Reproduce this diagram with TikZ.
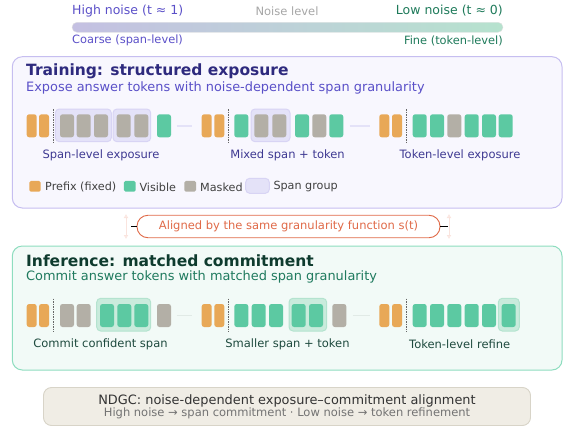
\documentclass[tikz,border=0pt]{standalone}
\usepackage{fontspec}
\setmainfont{DejaVu Sans}
\usetikzlibrary{arrows.meta,positioning,calc}

\definecolor{pfx}{HTML}{E8A857}
\definecolor{vis}{HTML}{5CC9A2}
\definecolor{msk}{HTML}{B3AFA6}
\definecolor{spanfill}{HTML}{E4E2F8}
\definecolor{spanline}{HTML}{D8D4F4}
\definecolor{comfill}{HTML}{C9EBDC}
\definecolor{comline}{HTML}{B4E3CF}
\definecolor{trfill}{HTML}{F8F7FE}
\definecolor{trline}{HTML}{C6BEF0}
\definecolor{trdark}{HTML}{2E2A7E}
\definecolor{trmid}{HTML}{5A50C8}
\definecolor{trlab}{HTML}{3E3992}
\definecolor{infill}{HTML}{F2FAF7}
\definecolor{inborder}{HTML}{8EDDBF}
\definecolor{indark}{HTML}{0E3B2E}
\definecolor{inmid}{HTML}{1F7A5E}
\definecolor{inlab}{HTML}{1E4A3E}
\definecolor{alignc}{HTML}{E06A48}
\definecolor{notefill}{HTML}{F0EDE5}
\definecolor{noteline}{HTML}{D8D4C8}
\definecolor{barL}{HTML}{C4C0E2}
\definecolor{barR}{HTML}{B6E2CE}
\definecolor{hi}{HTML}{5B50C8}
\definecolor{lo}{HTML}{1E7A5A}

\tikzset{
  txt/.style={inner sep=0pt,font=\fontsize{#1}{#1}\selectfont},
  ans/.style={rounded corners=2.5pt,minimum width=14pt,minimum height=23pt,inner sep=0pt},
  pre/.style={ans,minimum width=10pt,fill=pfx},
  sep/.style={gray!80!black,dash pattern=on 1.5pt off 1pt,line width=0.7pt},
  spangrp/.style={fill=spanfill,draw=spanline,line width=1pt,rounded corners=4pt},
  comgrp/.style={fill=comfill,draw=comline,line width=1pt,rounded corners=4pt},
  link/.style={line width=1.6pt,shorten <=5.4pt,shorten >=10pt}
}

\begin{document}
\begin{tikzpicture}[x=1pt,y=-1pt]
\useasboundingbox (0,0) rectangle (564,428);

% noise scale
\shade[left color=barL,right color=barR,rounded corners=5pt,draw=gray!25] (72,22.3) rectangle (503,32.3);
\node[txt=12.5,text=hi,anchor=west] (hinoise) at (72,11) {High noise (t ≈ 1)};
\node[txt=11.5,text=gray!70] (noiselvl) at (287,11.5) {Noise level};
\node[txt=12.5,text=lo,anchor=east] (lonoise) at (503,11) {Low noise (t ≈ 0)};
\node[txt=11.4,text=hi,anchor=west] (coarse) at (72,40.5) {Coarse (span-level)};
\node[txt=11.4,text=lo,anchor=east] (fine) at (503,40.5) {Fine (token-level)};

% training panel
\draw[fill=trfill,draw=trline,line width=1pt,rounded corners=10pt] (12.3,56.7) rectangle (562,208);
\node[txt=15.5,font=\bfseries\fontsize{15.5}{15.5}\selectfont,text=trdark,anchor=west] (trtitle) at (26,71.7) {Training: structured exposure};
\node[txt=12.9,text=trmid,anchor=west] (trsub) at (26,88.3) {Expose answer tokens with noise-dependent span granularity};

\fill[spangrp] (55.3,109) rectangle (111.3,141.7);
\fill[spangrp] (113,109) rectangle (150.7,141.7);
\fill[spangrp] (251,109) rectangle (290,141.7);
\foreach \x [count=\i] in {26.7,39} \node[pre] (tpa\i) at (\x+5,125.8) {};
\foreach \x [count=\i] in {201.7,214.3} \node[pre] (tpb\i) at (\x+5,125.8) {};
\foreach \x [count=\i] in {379.3,392} \node[pre] (tpc\i) at (\x+5,125.8) {};
\foreach \x in {53.7,228.7,406.3} \draw[sep] (\x,109) -- (\x,142);
\foreach \x/\c [count=\i] in {60/msk,76.7/msk,94/msk,116.7/msk,134.3/msk,157/vis}
  \node[ans,fill=\c] (ta\i) at (\x+7,125.8) {};
\foreach \x/\c [count=\i] in {234.3/vis,254.3/msk,272.3/msk,295/vis,312.3/msk,329.3/vis}
  \node[ans,fill=\c] (tb\i) at (\x+7,125.8) {};
\foreach \x/\c [count=\i] in {412.7/vis,430/vis,447.3/msk,464.7/vis,482/vis,498.7/vis}
  \node[ans,fill=\c] (tc\i) at (\x+7,125.8) {};
\draw[link,spanfill] (ta6.east) -- (tpb1.west);
\draw[link,spanfill,shorten <=6pt,shorten >=9pt] (tb6.east) -- (tpc1.west);

\node[txt=11.5,text=trlab] (trlaba) at (101,155) {Span-level exposure};
\node[txt=11.5,text=trlab] (trlabb) at (287.5,155) {Mixed span + token};
\node[txt=11.5,text=trlab] (trlabc) at (460,155) {Token-level exposure};

% legend
\node[pre,minimum width=11.4pt,minimum height=10.7pt,rounded corners=1.5pt] (kpre) at (35,186.3) {};
\node[txt=11.2,text=black!75,anchor=west] (kpretxt) at (45,187) {Prefix (fixed)};
\node[ans,fill=vis,minimum width=11.7pt,minimum height=10.7pt,rounded corners=1.5pt] (kvis) at (129.8,186.3) {};
\node[txt=11.2,text=black!75,anchor=west] (kvistxt) at (139.3,187) {Visible};
\node[ans,fill=msk,minimum width=11.7pt,minimum height=10.7pt,rounded corners=1.5pt] (kmsk) at (190.2,186.3) {};
\node[txt=11.2,text=black!75,anchor=west] (kmsktxt) at (200,187) {Masked};
\node[spangrp,minimum width=23.6pt,minimum height=15pt,inner sep=0pt] (kgrp) at (257.5,185.8) {};
\node[txt=11.2,text=black!75,anchor=west] (kgrptxt) at (273.3,187) {Span group};

% alignment
\node[txt=11.5,draw=alignc,fill=white,text=alignc,rounded corners=11pt,minimum width=303pt,minimum height=22.5pt,line width=0.9pt] (align) at (288.5,226.5) {Aligned by the same granularity function s(t)};
\coordinate (al) at (126,226.5);
\coordinate (ar) at (449,226.5);
\draw[black,line width=0.6pt,shorten <=5pt] (al) -- (align.west);
\draw[black,line width=0.6pt,shorten >=1pt] (align.east) -- (ar);
\foreach \p in {al,ar}
  \draw[{Latex[open,length=4pt,width=5pt]}-{Latex[open,length=4pt,width=5pt]},alignc!30,line width=0.8pt,opacity=0.6] ($(\p)+(0,-12.5)$) -- ($(\p)+(0,12.5)$);

% inference panel
\draw[fill=infill,draw=inborder,line width=1pt,rounded corners=10pt] (12.3,246) rectangle (562,370);
\node[txt=15.5,font=\bfseries\fontsize{15.5}{15.5}\selectfont,text=indark,anchor=west] (intitle) at (26,260.7) {Inference: matched commitment};
\node[txt=12.9,text=inmid,anchor=west] (insub) at (26,277.3) {Commit answer tokens with matched span granularity};

\fill[comgrp] (96.7,298.3) rectangle (150.7,331);
\fill[comgrp] (289,298.3) rectangle (326.7,331);
\fill[comgrp] (498.3,298.3) rectangle (519.3,331);
\foreach \x [count=\i] in {26.7,39} \node[pre] (ipa\i) at (\x+5,315.5) {};
\foreach \x [count=\i] in {201.7,214.3} \node[pre] (ipb\i) at (\x+5,315.5) {};
\foreach \x [count=\i] in {379.3,392} \node[pre] (ipc\i) at (\x+5,315.5) {};
\foreach \x in {53.7,228.7,406.7} \draw[sep] (\x,298.5) -- (\x,332);
\foreach \x/\c [count=\i] in {60/msk,76.7/msk,100/vis,117.3/vis,134.3/vis,157/msk}
  \node[ans,fill=\c] (ia\i) at (\x+7,315.5) {};
\foreach \x/\c [count=\i] in {234.3/vis,251.7/vis,269/vis,291.7/vis,309/vis,332.3/msk}
  \node[ans,fill=\c] (ib\i) at (\x+7,315.5) {};
\foreach \x/\c [count=\i] in {412.7/vis,430/vis,447.3/vis,464.7/vis,482/vis,501.7/vis}
  \node[ans,fill=\c] (ic\i) at (\x+7,315.5) {};
\draw[link,comfill!70!gray!40] (ia6.east) -- (ipb1.west);
\draw[link,comfill!70!gray!40,shorten <=6pt,shorten >=9pt] (ib6.east) -- (ipc1.west);

\node[txt=11.5,text=inlab] (inlaba) at (100.5,344) {Commit confident span};
\node[txt=11.5,text=inlab] (inlabb) at (287.5,344) {Smaller span + token};
\node[txt=11.5,text=inlab] (inlabc) at (459.7,344) {Token-level refine};

% summary
\node[draw=noteline,fill=notefill,rounded corners=8pt,line width=0.9pt,minimum width=487pt,minimum height=38pt,inner sep=0pt,align=center] (note) at (287,406.5)
  {{\fontsize{12.9}{15}\selectfont\color{black!80}NDGC: noise-dependent exposure–commitment alignment}\\
   {\fontsize{11.5}{12}\selectfont\color{black!55}High noise → span commitment · Low noise → token refinement}};
\end{tikzpicture}
\end{document}
